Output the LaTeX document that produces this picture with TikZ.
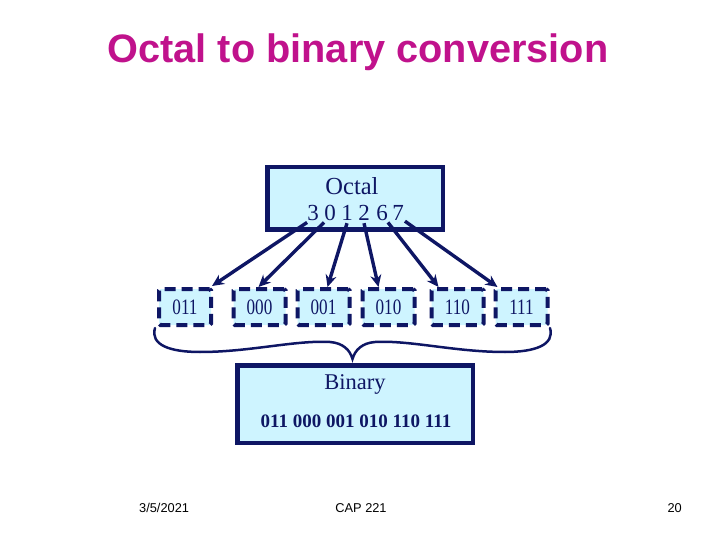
\documentclass[tikz,border=0pt]{standalone}
\usepackage{fontspec}
\setmainfont{Liberation Serif}
\newfontfamily\arialfont{Liberation Sans}
\usetikzlibrary{arrows.meta}
\definecolor{navy}{RGB}{14,22,100}
\definecolor{boxfill}{RGB}{206,244,255}
\definecolor{titlemag}{RGB}{192,18,140}
\tikzset{
  bigbox/.style={draw=navy, fill=boxfill, line width=4.5pt, inner sep=0pt},
  dashbox/.style={draw=navy, fill=boxfill, line width=4pt, dash pattern=on 11pt off 6pt, rounded corners=1.5pt, minimum width=52pt, minimum height=36pt, inner sep=0pt, font=\fontsize{22}{22}\selectfont, text=navy},
  digit/.style={inner sep=0pt, anchor=base, font=\fontsize{23}{23}\selectfont, text=navy},
  conv/.style={draw=navy, line width=3.4pt, -{Stealth[length=12pt,width=11pt]}},
  foot/.style={inner sep=0pt, anchor=base, font=\arialfont\fontsize{12.8}{13}\selectfont, text=black},
}
\newcommand{\narrow}[1]{\scalebox{0.78}[1]{#1}}
\begin{document}
\begin{tikzpicture}[x=1pt,y=-1pt]
\useasboundingbox (0,0) rectangle (720,540);
% title
\node[inner sep=0pt, anchor=base, text=titlemag, font=\arialfont\bfseries\fontsize{39.7}{40}\selectfont] (title) at (358,63) {Octal to binary conversion};
% octal box
\node[bigbox, minimum width=175.5pt, minimum height=62.5pt] (octal) at (355,198.5) {};
\node[digit, font=\fontsize{24.5}{24}\selectfont] (octlabel) at (352,195) {Octal};
\node[digit] (d3) at (313,221) {3};
\node[digit] (d0) at (330,221) {0};
\node[digit] (d1) at (347,221) {1};
\node[digit] (d2) at (364,221) {2};
\node[digit] (d6) at (382,221) {6};
\node[digit] (d7) at (398,221) {7};
% binary group boxes
\node[dashbox] (b1) at (185,307) {\narrow{011}};
\node[dashbox] (b2) at (259.5,307) {\narrow{000}};
\node[dashbox] (b3) at (323.5,307) {\narrow{001}};
\node[dashbox] (b4) at (388.5,307) {\narrow{010}};
\node[dashbox] (b5) at (457.5,307) {\narrow{110}};
\node[dashbox] (b6) at (521.5,307) {\narrow{111}};
% arrows
\draw[conv] ([yshift=-1pt]d3.south west) -- ([xshift=-1pt,yshift=1pt]b1.north east);
\draw[conv] ([yshift=-1pt]d0.south west) -- ([xshift=-1pt]b2.north);
\draw[conv] ([yshift=-2pt]d1.south) -- ([xshift=4pt]b3.north);
\draw[conv] ([yshift=-2pt]d2.south) -- ([xshift=-10pt]b4.north);
\draw[conv] ([yshift=-1pt]d6.south east) -- ([xshift=9pt]b5.north west);
\draw[conv] ([xshift=1pt]d7.south east) -- ([xshift=4pt]b6.north west);
% brace
\coordinate (brl) at (155,328);
\coordinate (brt) at (352.5,359);
\coordinate (brr) at (550,328);
\draw[navy, line width=2.5pt, line cap=round]
  (brl) .. controls (150,345) and (170,352) .. (200,352)
        .. controls (250,352) and (295,340) .. (330,342)
        .. controls (343,343) and (350,350) .. (brt)
        .. controls (355,350) and (362,343) .. (375,342)
        .. controls (410,340) and (455,352) .. (505,352)
        .. controls (535,352) and (555,345) .. (brr);
% binary box
\node[bigbox, minimum width=235.5pt, minimum height=77.5pt] (binary) at (355,404) {};
\node[digit, font=\fontsize{22.5}{22}\selectfont] (binlabel) at (355,389) {Binary};
\node[digit, font=\bfseries\fontsize{19}{19}\selectfont] (binval) at (356,427) {011 000 001 010 110 111};
% footer
\node[foot, anchor=base west] (date) at (139,512) {3/5/2021};
\node[foot] (course) at (361,512) {CAP 221};
\node[foot, anchor=base east] (page) at (682,512) {20};
\end{tikzpicture}
\end{document}
